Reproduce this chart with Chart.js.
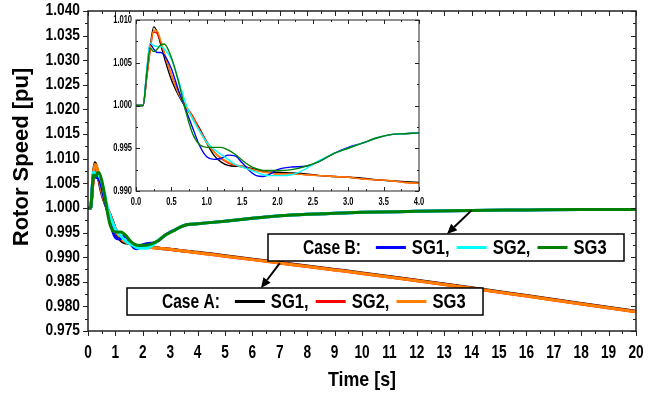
<!DOCTYPE html>
<html>
<head>
<meta charset="utf-8">
<script src="https://cdn.jsdelivr.net/npm/chart.js@4.4.0/dist/chart.umd.min.js"></script>
<style>
  html, body { margin: 0; padding: 0; background: #fff; }
  #wrap { position: relative; width: 659px; height: 396px; }
  #main { position: absolute; left: 0; top: 0; }
  #zoom { position: absolute; left: 104px; top: 12px; }
</style>
</head>
<body>
<div id="wrap">
  <canvas id="main" width="659" height="396"></canvas>
  <canvas id="zoom" width="334" height="200"></canvas>
</div>
<script>
// time axis [s]
var timeS = [0, 0.1, 0.15, 0.2, 0.25, 0.3, 0.35, 0.4,
  0.5, 0.6, 0.7, 0.8, 0.9, 1.0, 1.1, 1.2, 1.3, 1.4, 1.5, 1.6, 1.7, 1.8, 1.9, 2.0,
  2.2, 2.4, 2.6, 2.8, 3.0, 3.2, 3.4, 3.6, 3.8, 4.0,
  5, 6, 7, 8, 9, 10, 12, 14, 16, 18, 20];

// Case A rotor speeds [pu]
var caseA_SG1 = [1.0000, 1.0000, 1.0033, 1.0068, 1.0092, 1.0086, 1.0071, 1.0056,
  1.0030, 1.0012, 0.9998, 0.9986, 0.9973, 0.9956, 0.9942, 0.9934, 0.9930, 0.9929, 0.9929, 0.9927, 0.9925, 0.9923, 0.9922, 0.9922,
  0.9921, 0.9920, 0.9918, 0.9917, 0.9916, 0.9915, 0.9913, 0.9912, 0.9911, 0.9910,
  0.9903, 0.9896, 0.9889, 0.9882, 0.9875, 0.9868, 0.9853, 0.9838, 0.9822, 0.9806, 0.9790];
var caseA_SG2 = [1.0000, 1.0000, 1.0031, 1.0064, 1.0086, 1.0084, 1.0074, 1.0061,
  1.0036, 1.0016, 1.0000, 0.9988, 0.9972, 0.9958, 0.9946, 0.9938, 0.9933, 0.9930, 0.9928, 0.9926, 0.9924, 0.9923, 0.9921, 0.9920,
  0.9920, 0.9919, 0.9918, 0.9917, 0.9916, 0.9914, 0.9913, 0.9912, 0.9910, 0.9909,
  0.9902, 0.9895, 0.9888, 0.9881, 0.9874, 0.9867, 0.9852, 0.9837, 0.9821, 0.9805, 0.9789];
var caseA_SG3 = [1.0000, 1.0000, 1.0032, 1.0066, 1.0088, 1.0087, 1.0076, 1.0062,
  1.0036, 1.0014, 0.9999, 0.9986, 0.9970, 0.9956, 0.9946, 0.9939, 0.9934, 0.9931, 0.9929, 0.9926, 0.9924, 0.9922, 0.9921, 0.9920,
  0.9920, 0.9919, 0.9918, 0.9917, 0.9916, 0.9914, 0.9913, 0.9912, 0.9910, 0.9909,
  0.9902, 0.9895, 0.9888, 0.9881, 0.9874, 0.9867, 0.9852, 0.9837, 0.9821, 0.9805, 0.9789];

// Case B rotor speeds [pu]
var caseB_SG1 = [1.0000, 1.0000, 1.0038, 1.0072, 1.0066, 1.0062, 1.0062, 1.0059,
  1.0043, 1.0018, 0.9996, 0.9974, 0.9953, 0.9940, 0.9937, 0.9938, 0.9942, 0.9941, 0.9933, 0.9924, 0.9918, 0.9917, 0.9920, 0.9925,
  0.9928, 0.9929, 0.9935, 0.9944, 0.9951, 0.9956, 0.9962, 0.9966, 0.9967, 0.9968,
  0.9973, 0.9979, 0.9984, 0.9987, 0.9989, 0.9991, 0.9993, 0.9995, 0.9996, 0.9997, 0.9997];
var caseB_SG2 = [1.0000, 1.0000, 1.0040, 1.0073, 1.0070, 1.0069, 1.0069, 1.0066,
  1.0054, 1.0030, 1.0003, 0.9984, 0.9970, 0.9957, 0.9949, 0.9943, 0.9937, 0.9931, 0.9928, 0.9925, 0.9922, 0.9919, 0.9918, 0.9918,
  0.9919, 0.9926, 0.9936, 0.9944, 0.9950, 0.9956, 0.9962, 0.9966, 0.9967, 0.9968,
  0.9973, 0.9979, 0.9984, 0.9987, 0.9989, 0.9991, 0.9993, 0.9995, 0.9996, 0.9997, 0.9997];
var caseB_SG3 = [1.0000, 1.0000, 1.0036, 1.0067, 1.0063, 1.0066, 1.0071, 1.0072,
  1.0056, 1.0028, 0.9994, 0.9967, 0.9954, 0.9951, 0.9951, 0.9951, 0.9948, 0.9943, 0.9936, 0.9930, 0.9926, 0.9924, 0.9924, 0.9924,
  0.9925, 0.9929, 0.9935, 0.9944, 0.9950, 0.9956, 0.9962, 0.9966, 0.9967, 0.9968,
  0.9973, 0.9979, 0.9984, 0.9987, 0.9989, 0.9991, 0.9993, 0.9995, 0.9996, 0.9997, 0.9997];

var SANS = '"Liberation Sans", Arial, sans-serif';
var C = { a1: '#000000', a2: '#ff0000', a3: '#ff8000', b1: '#0000ff', b2: '#00ffff', b3: '#008000' };

function pts(vals) {
  return timeS.map(function (t, i) { return { x: t, y: vals[i] }; });
}

// first entry is drawn on top
function makeSets(w) {
  var list = [
    ['B SG3', caseB_SG3, C.b3], ['B SG2', caseB_SG2, C.b2], ['B SG1', caseB_SG1, C.b1],
    ['A SG3', caseA_SG3, C.a3], ['A SG2', caseA_SG2, C.a2], ['A SG1', caseA_SG1, C.a1]
  ];
  return list.map(function (d) {
    return {
      label: d[0], data: pts(d[1]), borderColor: d[2], backgroundColor: d[2],
      borderWidth: w, pointRadius: 0, fill: false, cubicInterpolationMode: 'monotone'
    };
  });
}

function valueAt(arr, t) {
  return arr[timeS.indexOf(t)];
}

// condensed bold text: squeeze Liberation Sans horizontally
function narrowText(ctx, text, x, y, size, sx, align) {
  ctx.save();
  ctx.font = 'bold ' + size + 'px ' + SANS;
  ctx.textAlign = align;
  ctx.textBaseline = 'middle';
  ctx.fillStyle = '#000';
  ctx.translate(x, y);
  ctx.scale(sx, 1);
  ctx.fillText(text, 0, 0);
  var w = ctx.measureText(text).width * sx;
  ctx.restore();
  return w;
}

// frame, major/minor tick marks and tick labels
function frameAndTicks(chart, o) {
  var ctx = chart.ctx, a = chart.chartArea, xs = chart.scales.x, ys = chart.scales.y;
  var out = o.out ? 1 : -1;
  ctx.save();
  ctx.strokeStyle = '#222';
  ctx.lineWidth = o.frameWidth;
  ctx.strokeRect(a.left, a.top, a.right - a.left, a.bottom - a.top);
  ctx.lineWidth = 1;
  ctx.beginPath();
  var n = Math.round((xs.max - xs.min) / (o.xStep / 2));
  for (var i = 0; i <= n; i++) {
    var len = i % 2 === 0 ? o.major : o.minor;
    var px = Math.round(xs.getPixelForValue(xs.min + i * o.xStep / 2)) + 0.5;
    ctx.moveTo(px, a.bottom); ctx.lineTo(px, a.bottom + out * len);
    ctx.moveTo(px, a.top); ctx.lineTo(px, a.top + len);
  }
  var m = Math.round((ys.max - ys.min) / (o.yStep / 2));
  for (var j = 0; j <= m; j++) {
    var ln = j % 2 === 0 ? o.major : o.minor;
    var py = Math.round(ys.getPixelForValue(ys.min + j * o.yStep / 2)) + 0.5;
    ctx.moveTo(a.left, py); ctx.lineTo(a.left - out * ln, py);
    ctx.moveTo(a.right, py); ctx.lineTo(a.right - ln, py);
  }
  ctx.stroke();
  ctx.restore();

  xs.ticks.forEach(function (t) {
    narrowText(ctx, t.value.toFixed(o.xDec), xs.getPixelForValue(t.value), a.bottom + o.xLabelGap,
      o.xSize, o.xsx, 'center');
  });
  ys.ticks.forEach(function (t) {
    narrowText(ctx, t.value.toFixed(o.yDec), a.left - o.yLabelGap, ys.getPixelForValue(t.value),
      o.ySize, o.ysx, 'right');
  });
}

function arrow(ctx, x1, y1, x2, y2) {
  var ang = Math.atan2(y2 - y1, x2 - x1), head = 10, wid = 4.5;
  var c = Math.cos(ang), s = Math.sin(ang);
  ctx.strokeStyle = '#000';
  ctx.fillStyle = '#000';
  ctx.lineWidth = 2;
  ctx.beginPath();
  ctx.moveTo(x1, y1);
  ctx.lineTo(x2 - head * c, y2 - head * s);
  ctx.stroke();
  ctx.beginPath();
  ctx.moveTo(x2, y2);
  ctx.lineTo(x2 - head * c + wid * s, y2 - head * s - wid * c);
  ctx.lineTo(x2 - head * c - wid * s, y2 - head * s + wid * c);
  ctx.closePath();
  ctx.fill();
}

function legendBox(ctx, box, title, items) {
  ctx.save();
  ctx.fillStyle = '#fff';
  ctx.fillRect(box.x, box.y, box.w, box.h);
  ctx.strokeStyle = '#000';
  ctx.lineWidth = 1.5;
  ctx.strokeRect(box.x, box.y, box.w, box.h);
  var cy = box.y + box.h / 2 + 1;
  var x = box.x + 35;
  x += narrowText(ctx, title, x, cy, 21, 0.74, 'left') + 15;
  items.forEach(function (it) {
    ctx.strokeStyle = it.color;
    ctx.lineWidth = 3;
    ctx.beginPath();
    ctx.moveTo(x, cy - 1); ctx.lineTo(x + 30, cy - 1);
    ctx.stroke();
    x += 36;
    x += narrowText(ctx, it.text, x, cy, 21, 0.79, 'left') + 7;
  });
  ctx.restore();
}

var mainDecor = {
  id: 'mainDecor',
  afterDraw: function (chart) {
    var ctx = chart.ctx, xs = chart.scales.x, ys = chart.scales.y, a = chart.chartArea;
    frameAndTicks(chart, {
      out: true, frameWidth: 1.5, xStep: 1, yStep: 0.005, major: 5, minor: 3,
      xDec: 0, yDec: 3, xSize: 18, ySize: 16, xsx: 0.76, ysx: 0.86, xLabelGap: 22, yLabelGap: 8
    });

    narrowText(ctx, 'Time [s]', (a.left + a.right) / 2, 380, 21, 0.85, 'center');
    ctx.save();
    ctx.fillStyle = '#000';
    ctx.textAlign = 'center';
    ctx.textBaseline = 'middle';
    ctx.translate(22, 157);
    ctx.rotate(-Math.PI / 2);
    ctx.font = 'bold 22px ' + SANS;
    ctx.fillText('Rotor Speed [pu]', 0, 0);
    ctx.restore();

    var boxB = { x: 268, y: 234, w: 356, h: 27 };
    var boxA = { x: 127, y: 288, w: 356, h: 27 };
    ctx.save();
    arrow(ctx, xs.getPixelForValue(14), ys.getPixelForValue(valueAt(caseB_SG3, 14)), 447, boxB.y);
    arrow(ctx, xs.getPixelForValue(7), ys.getPixelForValue(valueAt(caseA_SG3, 7)), 261, boxA.y);
    ctx.restore();
    legendBox(ctx, boxB, 'Case B:', [
      { color: C.b1, text: 'SG1,' }, { color: C.b2, text: 'SG2,' }, { color: C.b3, text: 'SG3' }
    ]);
    legendBox(ctx, boxA, 'Case A:', [
      { color: C.a1, text: 'SG1,' }, { color: C.a2, text: 'SG2,' }, { color: C.a3, text: 'SG3' }
    ]);
  }
};

var zoomDecor = {
  id: 'zoomDecor',
  afterDraw: function (chart) {
    frameAndTicks(chart, {
      out: false, frameWidth: 1, xStep: 0.5, yStep: 0.005, major: 4, minor: 2,
      xDec: 1, yDec: 3, xSize: 10, ySize: 10, xsx: 0.75, ysx: 0.75, xLabelGap: 11, yLabelGap: 4
    });
  }
};

function axisOpts(min, max, step, size) {
  return {
    type: 'linear', min: min, max: max,
    grid: { display: false, drawTicks: false },
    border: { display: false },
    ticks: { display: false, stepSize: step, autoSkip: false },
    afterFit: size
  };
}

new Chart(document.getElementById('main').getContext('2d'), {
  type: 'line',
  data: { datasets: makeSets(3) },
  options: {
    responsive: false,
    animation: false,
    layout: { padding: { left: 0, right: 23, top: 11, bottom: 0 } },
    plugins: { legend: { display: false }, tooltip: { enabled: false } },
    scales: {
      x: axisOpts(0, 20, 1, function (s) { s.height = 65; }),
      y: axisOpts(0.975, 1.040, 0.005, function (s) { s.width = 88; })
    }
  },
  plugins: [mainDecor]
});

new Chart(document.getElementById('zoom').getContext('2d'), {
  type: 'line',
  data: { datasets: makeSets(1.4) },
  options: {
    responsive: false,
    animation: false,
    layout: { padding: { left: 0, right: 19, top: 8, bottom: 0 } },
    plugins: { legend: { display: false }, tooltip: { enabled: false } },
    scales: {
      x: axisOpts(0, 4, 0.5, function (s) { s.height = 21; }),
      y: axisOpts(0.990, 1.010, 0.005, function (s) { s.width = 32; })
    }
  },
  plugins: [zoomDecor]
});
</script>
</body>
</html>
